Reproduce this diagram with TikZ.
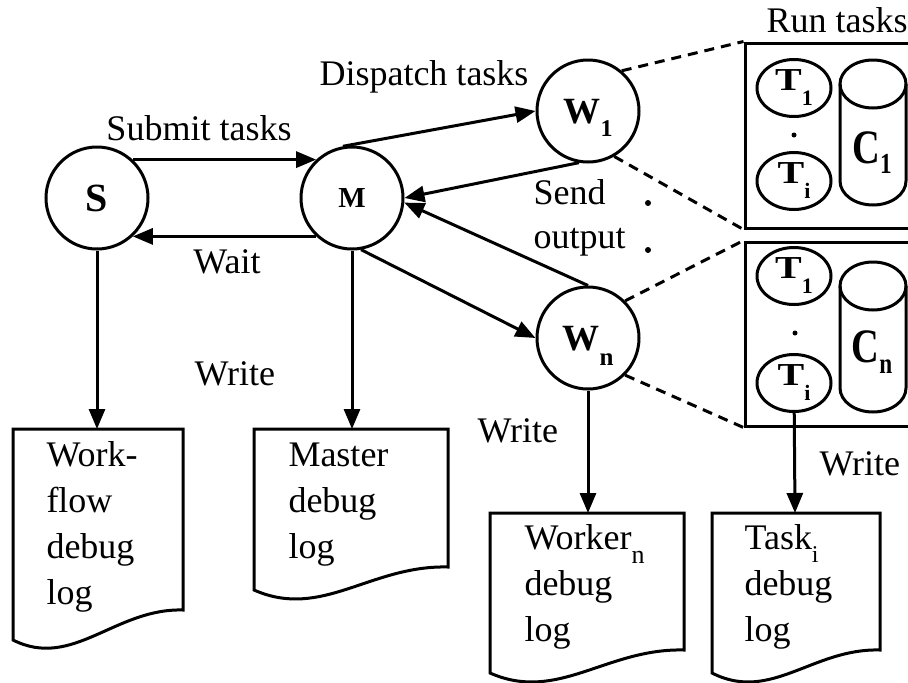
\documentclass[tikz,border=0pt]{standalone}
\usepackage{fontspec}
\setmainfont{Liberation Serif}
\usetikzlibrary{shapes.geometric,arrows.meta}

% lowered subscript: drop, size, text
\newcommand{\lowsub}[3]{\raisebox{-#1pt}{\fontsize{#2}{#2}\selectfont #3}}

\begin{document}
\begin{tikzpicture}[x=1pt, y=-1pt, line width=3pt]

% Set the overall frame of the picture
\useasboundingbox (0,0) rectangle (908,683);

% Define styles for processes, tasks and boxes
\tikzstyle{proc} = [circle, draw, minimum size=102pt, inner sep=0pt, font=\bfseries\fontsize{40}{40}\selectfont]
\tikzstyle{task} = [ellipse, draw, minimum width=74pt, minimum height=57pt, inner sep=0pt, font=\bfseries\fontsize{32}{32}\selectfont]
\tikzstyle{taskbox} = [rectangle, draw, minimum width=170pt, inner sep=0pt]
\tikzstyle{cache} = [inner sep=0pt, font=\bfseries\fontsize{48}{48}\selectfont]

%Define styles for texts and lines
\tikzstyle{lbl} = [inner sep=0pt, font=\fontsize{36}{44}\selectfont]
\tikzstyle{doctext} = [anchor=north west, align=left, inner sep=0pt, font=\fontsize{36}{46}\selectfont]
\tikzstyle{flow} = [-{Triangle[length=20pt, width=16pt]}]
\tikzstyle{tether} = [dash pattern=on 10pt off 7pt]

% Submitter, master and workers
\node (S) [proc] at (97,198) {S};
\node (M) [proc, font=\bfseries\fontsize{29}{29}\selectfont] at (352,198) {M};
\node (W1) [proc, font=\bfseries\fontsize{37}{37}\selectfont, text depth=0pt] at (588,111) {W\lowsub{13}{24}{1}};
\node (Wn) [proc, font=\bfseries\fontsize{37}{37}\selectfont, text depth=0pt] at (588,338) {W\lowsub{15}{25}{n}};

% Boxes with tasks and caches
\node (box1) [taskbox, minimum height=185pt] at (830,135.5) {};
\node (box2) [taskbox, minimum height=184pt] at (830,334) {};
\node (T11) [task] at (794,88) {\scalebox{1.25}[1]{T}\lowsub{15}{22}{1}};
\node (T1i) [task] at (794,181) {\scalebox{1.25}[1]{T}\lowsub{15}{22}{i}};
\node (Tn1) [task] at (794,276) {\scalebox{1.25}[1]{T}\lowsub{15}{22}{1}};
\node (Tni) [task] at (794,383) {\scalebox{1.25}[1]{T}\lowsub{15}{22}{i}};
\foreach \t/\b in {60/205, 262/412}
{
  \draw (873,\t+24) ellipse [x radius=33, y radius=24];
  \draw (840,\t+24) -- (840,\b-24) arc [start angle=180, end angle=0, x radius=33, y radius=24] -- (906,\t+24);
}
\node (C1) [cache] at (872,153) {\scalebox{0.8}[1]{C\lowsub{10}{29}{1}}};
\node (Cn) [cache] at (872,352) {\scalebox{0.8}[1]{C\lowsub{11}{29}{n}}};
\fill (794,135) circle (2.5) (795,333) circle (2.5);
\fill (648,203) circle (3) (648,250) circle (3);

% Debug logs
\foreach \n/\c/\l/\r/\t/\b/\h in {wf/97/13/183/429/640/30, ml/352/254/448/429/590/23, wl/588/490/684/513/673/23, tl/795/712/880/513/673/23}
{
  \draw (\l,\b) -- (\l,\t) -- (\r,\t) -- (\r,\b-\h)
    .. controls ({\l+0.6*(\r-\l)},\b-\h-2) and ({\l+0.35*(\r-\l)},\b+30) .. (\l,\b) -- cycle;
  \coordinate (top\n) at (\c,\t);
}
\node (wflog) [doctext] at (45,440) {Work-\\flow\\debug\\log};
\node (mlog) [doctext] at (287,441) {Master\\debug\\log};
\node (wlog) [doctext] at (523,523) {Worker\lowsub{14}{26}{n}\\debug\\log};
\node (tlog) [doctext] at (743,523) {Task\lowsub{13}{24}{i}\\debug\\log};

% Labels
\node (submit) [lbl, anchor=base] at (199,140) {Submit tasks};
\node (wait) [lbl, anchor=base] at (227,273) {Wait};
\node (dispatch) [lbl, anchor=base] at (424,85) {Dispatch tasks};
\node (send) [lbl, anchor=north west, align=left] at (532,178) {Send\\output};
\node (run) [lbl, anchor=base west] at (765,32) {Run tasks};
\node (write1) [lbl, anchor=base west] at (193,385) {Write};
\node (write2) [lbl, anchor=base west] at (476,442) {Write};
\node (write3) [lbl, anchor=base west] at (818,475) {Write};

% Connectors
\draw[flow] (S.47) -- (M.133);
\draw[flow] (M.-133) -- (S.-47);
\draw[flow] (M.100) -- (W1.west);
\draw[flow] (W1.260) -- (M.east);
\draw[flow] (Wn.north) -- (M.-5);
\draw[flow] (M.-80) -- (Wn.west);
\draw[tether] (W1.50) -- (box1.north west);
\draw[tether] (W1.-60) -- (box1.south west);
\draw[tether] (Wn.45) -- (box2.north west);
\draw[tether] (Wn.-45) -- (box2.south west);
\draw[flow] (S) -- (topwf);
\draw[flow] (M) -- (topml);
\draw[flow] (Wn) -- (topwl);
\draw[flow] (Tni) -- (toptl);

\end{tikzpicture}
\end{document}
